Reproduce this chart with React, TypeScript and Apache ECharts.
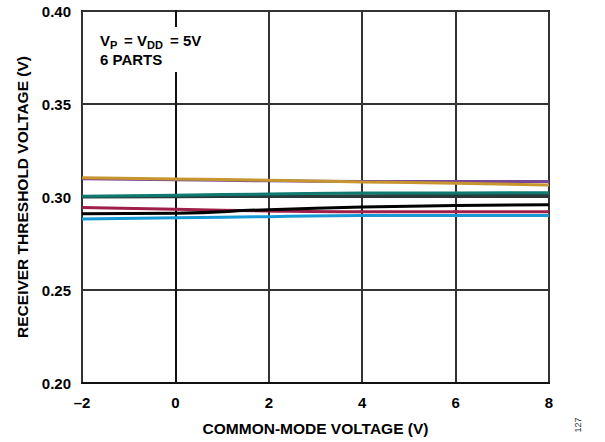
import React, { useEffect, useRef } from "react";
import * as echarts from "echarts";

const xValues = [-2, 0, 2, 4, 6, 8];
const purple = [0.3098, 0.3093, 0.3087, 0.3084, 0.3084, 0.3084];
const gold = [0.3104, 0.3097, 0.309, 0.3081, 0.3074, 0.3065];
const darkSlate = [0.3, 0.3002, 0.3004, 0.3007, 0.3009, 0.3011];
const teal = [0.3004, 0.301, 0.3016, 0.3022, 0.3022, 0.3023];
const crimson = [0.2943, 0.2934, 0.2925, 0.2921, 0.2921, 0.2921];
const black = [0.291, 0.2913, 0.2932, 0.2946, 0.2954, 0.2959];
const blue = [0.2882, 0.2889, 0.2894, 0.29, 0.29, 0.29];

const seriesDefs = [
  { name: "Part 1", data: purple, color: "#7a4796" },
  { name: "Part 2", data: gold, color: "#c7962f" },
  { name: "Part 3", data: darkSlate, color: "#263d3c" },
  { name: "Part 4", data: teal, color: "#0f7a70" },
  { name: "Part 5", data: crimson, color: "#a01f48" },
  { name: "Part 6", data: black, color: "#000000" },
  { name: "Part 7", data: blue, color: "#1598d3" },
];

const FONT = "'Liberation Sans', Arial, sans-serif";

export default function App() {
  const ref = useRef<HTMLDivElement>(null);
  useEffect(() => {
    if (!ref.current) return;
    const chart = echarts.init(ref.current, null, { renderer: "svg" });
    chart.setOption({
      animation: false,
      backgroundColor: "#ffffff",
      grid: {
        left: 82,
        right: 56,
        top: 11,
        bottom: 59,
        show: true,
        borderColor: "#111",
        borderWidth: 2,
        backgroundColor: "transparent",
      },
      xAxis: {
        type: "value",
        min: -2,
        max: 8,
        interval: 2,
        name: "COMMON-MODE VOLTAGE (V)",
        nameLocation: "middle",
        nameGap: 37,
        nameTextStyle: { fontFamily: FONT, fontWeight: "bold", fontSize: 15.5, color: "#000" },
        axisLine: { show: true, lineStyle: { color: "#111", width: 2 } },
        axisTick: { show: false },
        axisLabel: {
          fontFamily: FONT,
          fontWeight: "bold",
          fontSize: 15,
          color: "#000",
          margin: 12,
          formatter: (v: number) => (v < 0 ? "\u2013" + Math.abs(v) : String(v)),
        },
        splitLine: { show: true, lineStyle: { color: "#333", width: 2 } },
      },
      yAxis: {
        type: "value",
        min: 0.2,
        max: 0.4,
        interval: 0.05,
        name: "RECEIVER THRESHOLD VOLTAGE (V)",
        nameLocation: "middle",
        nameGap: 52,
        nameTextStyle: { fontFamily: FONT, fontWeight: "bold", fontSize: 15.5, color: "#000" },
        axisLine: { show: true, lineStyle: { color: "#111", width: 2 } },
        axisTick: { show: false },
        axisLabel: {
          fontFamily: FONT,
          fontWeight: "bold",
          fontSize: 15,
          color: "#000",
          margin: 11,
          formatter: (v: number) => v.toFixed(2),
        },
        splitLine: { show: true, lineStyle: { color: "#333", width: 2 } },
      },
      series: seriesDefs.map((s) => ({
        name: s.name,
        type: "line",
        data: xValues.map((x, i) => [x, s.data[i]]),
        showSymbol: false,
        smooth: true,
        lineStyle: { color: s.color, width: 3 },
        itemStyle: { color: s.color },
        z: 5,
      })),
      graphic: [
        { type: "rect", z: 100, shape: { x: 169, y: 27, width: 13, height: 45 }, style: { fill: "#ffffff" } },
        { type: "text", z: 101, x: 100, y: 40, style: { text: "V", font: `bold 15px ${FONT}`, fill: "#000", verticalAlign: "middle" } },
        { type: "text", z: 101, x: 110, y: 45, style: { text: "P", font: `bold 11px ${FONT}`, fill: "#000", verticalAlign: "middle" } },
        { type: "text", z: 101, x: 124, y: 40, style: { text: "= V", font: `bold 15px ${FONT}`, fill: "#000", verticalAlign: "middle" } },
        { type: "text", z: 101, x: 147, y: 45, style: { text: "DD", font: `bold 11px ${FONT}`, fill: "#000", verticalAlign: "middle" } },
        { type: "text", z: 101, x: 170, y: 40, style: { text: "= 5V", font: `bold 15px ${FONT}`, fill: "#000", verticalAlign: "middle" } },
        { type: "text", z: 101, x: 100, y: 59, style: { text: "6 PARTS", font: `bold 15px ${FONT}`, fill: "#000", verticalAlign: "middle" } },
        {
          type: "text",
          z: 101,
          x: 578,
          y: 425,
          rotation: Math.PI / 2,
          style: { text: "127", font: `9px ${FONT}`, fill: "#333", align: "center", verticalAlign: "middle" },
        },
      ],
    });
    return () => chart.dispose();
  }, []);
  return <div ref={ref} style={{ width: 605, height: 442, position: "absolute", left: 0, top: 0 }} />;
}
